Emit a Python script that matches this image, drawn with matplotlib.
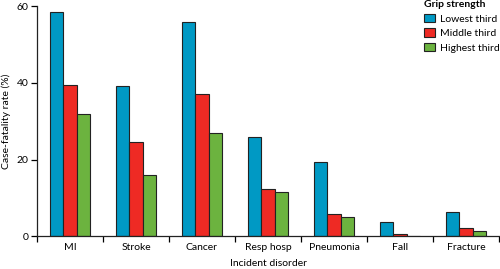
import numpy as np
import matplotlib
matplotlib.use("Agg")
import matplotlib.pyplot as plt

plt.rcParams['font.family'] = ['Lato', 'DejaVu Sans']

# data
disorders = ["MI", "Stroke", "Cancer", "Resp hosp", "Pneumonia", "Fall", "Fracture"]
lowest = [58.5, 39.1, 55.9, 25.9, 19.3, 3.7, 6.2]
middle = [39.4, 24.5, 37.0, 12.4, 5.7, 0.5, 2.1]
highest = [31.8, 16.1, 27.0, 11.6, 5.0, 0.2, 1.3]
series_names = ["Lowest third", "Middle third", "Highest third"]
colors = ["#0099c4", "#ee2a24", "#6cb33f"]

fig = plt.figure(figsize=(5, 2.69), dpi=100)
ax = fig.add_axes([0.074, 0.1216, 0.924, 0.856])

x = np.arange(len(disorders))
w = 0.207
for i, (vals, name, c) in enumerate(zip([lowest, middle, highest], series_names, colors)):
    ax.bar(x + (i - 1) * w, vals, width=w, color=c, edgecolor="#222222",
           linewidth=0.8, label=name)

ax.set_xlim(-0.5, len(disorders) - 0.5)
ax.set_ylim(0, 60)
ax.set_yticks([0, 20, 40, 60])
ax.set_xticks(np.arange(-0.5, len(disorders)))
ax.set_xticklabels([])
ax.set_xticks(x, minor=True)
ax.set_xticklabels(disorders, minor=True)
ax.tick_params(axis="x", which="minor", length=0, pad=5, labelsize=7.5)
ax.tick_params(axis="x", which="major", length=4, width=0.9, direction="out")
ax.tick_params(axis="y", length=4, width=0.9, labelsize=7.5, pad=2)

for s in ["top", "right"]:
    ax.spines[s].set_visible(False)
for s in ["left", "bottom"]:
    ax.spines[s].set_linewidth(0.9)
    ax.spines[s].set_color("#222222")

ax.set_ylabel("Case-fatality rate (%)", fontsize=7.5, labelpad=4)
ax.set_xlabel("Incident disorder", fontsize=7.5, labelpad=5)

leg = ax.legend(title="Grip strength", loc="upper left", bbox_to_anchor=(0.838, 1.025),
                frameon=False, fontsize=7.5, title_fontsize=7.5,
                handlelength=1.05, handleheight=0.85, handletextpad=0.45,
                labelspacing=0.45, borderaxespad=0, borderpad=0)
leg.get_title().set_fontweight("bold")
leg._legend_box.align = "left"

fig.savefig("out.png", dpi=100)
